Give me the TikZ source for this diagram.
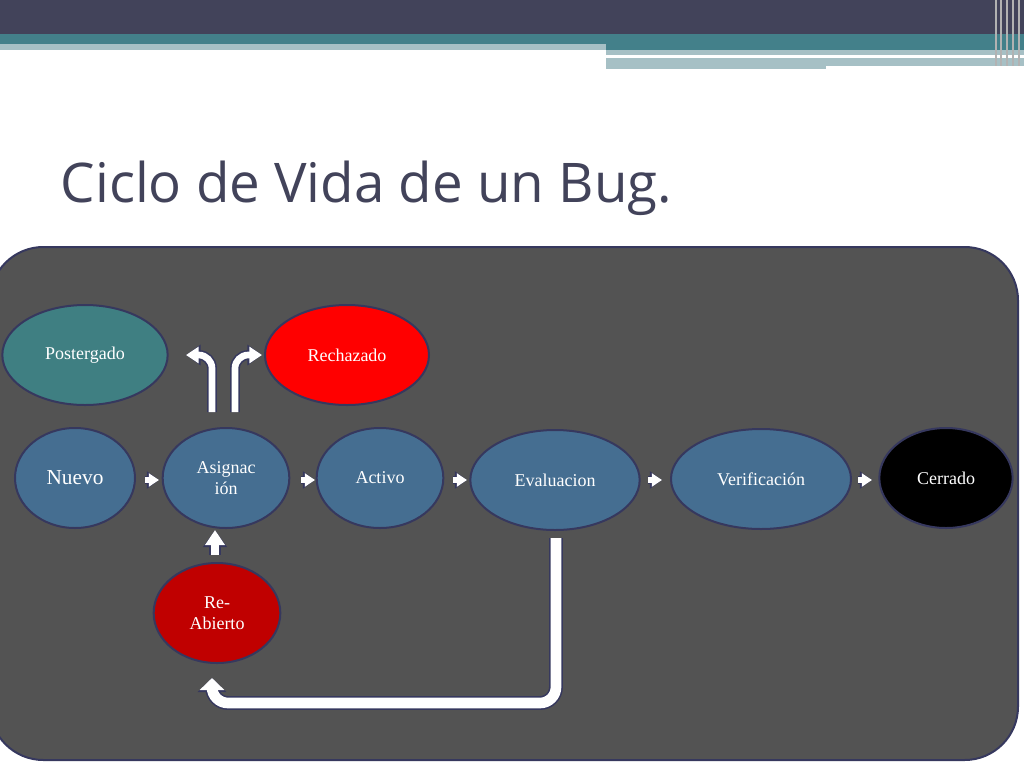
\documentclass[tikz,border=0pt]{standalone}
\usepackage{fontspec}
\setmainfont{Liberation Serif}
\newfontfamily\titlefont{Open Sans}
\usetikzlibrary{arrows.meta,shapes.geometric}
\definecolor{bar}{HTML}{42435A}
\definecolor{teal1}{HTML}{43808A}
\definecolor{teal2}{HTML}{A6C0C5}
\definecolor{panel}{HTML}{535353}
\definecolor{edge}{HTML}{36385E}
\definecolor{blu}{HTML}{456E91}
\definecolor{tl}{HTML}{3F7F82}
\definecolor{dred}{HTML}{C00000}
\tikzset{
 st/.style={ellipse,draw=edge,line width=1.5pt,text=white,font=\fontsize{13.5}{15.5}\selectfont,align=center,inner sep=0pt,minimum height=75pt},
 barrow/.style={preaction={draw=edge,line width=#1+2.4pt,-{Triangle[length=1.9*#1+1.5pt,width=2.4*#1+3pt]}},draw=white,line width=#1,-{Triangle[length=1.9*#1,width=2.4*#1]}},
 barrow/.default=4pt,
 bigarrow/.style={preaction={draw=edge,line width=10.4pt,-{Triangle[length=10.5pt,width=21pt]}},draw=white,line width=8pt,-{Triangle[length=9pt,width=18pt]}},
}
\begin{document}
\begin{tikzpicture}[x=0.75pt,y=-0.75pt]
\useasboundingbox (0,0) rectangle (1024,768);
\fill[white] (0,0) rectangle (1024,768);
\fill[bar] (0,0) rectangle (1024,34);
\fill[teal1] (0,34) rectangle (1024,44);
\fill[teal1] (606,44) rectangle (1024,50);
\fill[teal2] (0,44) rectangle (606,50);
\fill[teal2] (606,50) rectangle (1024,55);
\fill[teal2] (606,58) rectangle (1024,69);
\fill[white] (826,66) rectangle (1024,69);
\fill[white] (606,55) rectangle (948,58);
\foreach \x in {995,1000,1006,1012,1018}{\fill[gray!60] (\x,0) rectangle (\x+2,66);}
\node[anchor=west,text=bar,font=\titlefont\fontsize{41}{44}\selectfont] (title) at (56,188) {Ciclo de Vida de un Bug.};
\draw[edge,fill=panel,line width=1.5pt,rounded corners=40] (-10,247) rectangle (1018,760);
\node[st,fill=tl,minimum width=124pt] (post) at (85,355) {Postergado};
\node[st,fill=red,minimum width=123pt] (rech) at (347,355) {Rechazado};
\node[st,fill=blu,minimum width=90pt,font=\fontsize{16}{18}\selectfont] (nuevo) at (75,478) {Nuevo};
\node[st,fill=blu,minimum width=95pt] (asig) at (226,478) {Asignac\\ión};
\node[st,fill=blu,minimum width=95pt] (act) at (380,478) {Activo};
\node[st,fill=blu,minimum width=127pt] (eval) at (555,480) {\raisebox{-3pt}{Evaluacion}};
\node[st,fill=blu,minimum width=135pt] (ver) at (761,479) {Verificación};
\node[st,fill=black,minimum width=100pt] (cerr) at (946,478) {Cerrado};
\node[st,fill=dred,minimum width=95pt] (reab) at (217,613) {Re-\\Abierto};
\foreach \a/\b/\x in {nuevo/asig/145,asig/act/301,act/eval/453,eval/ver/648,ver/cerr/858}
  \draw[barrow=4pt] (\x,480) -- (\x+14,480);
\draw[barrow=6pt] (215,555) -- (215,530);
\draw[barrow=5pt,rounded corners=10] (212,412) -- (212,355) -- (186,355);
\draw[barrow=5pt,rounded corners=10] (235,412) -- (235,355) -- (262,355);
\draw[bigarrow,rounded corners=12] (556,538) |- (212,703) -- (212,678);
\end{tikzpicture}
\end{document}
